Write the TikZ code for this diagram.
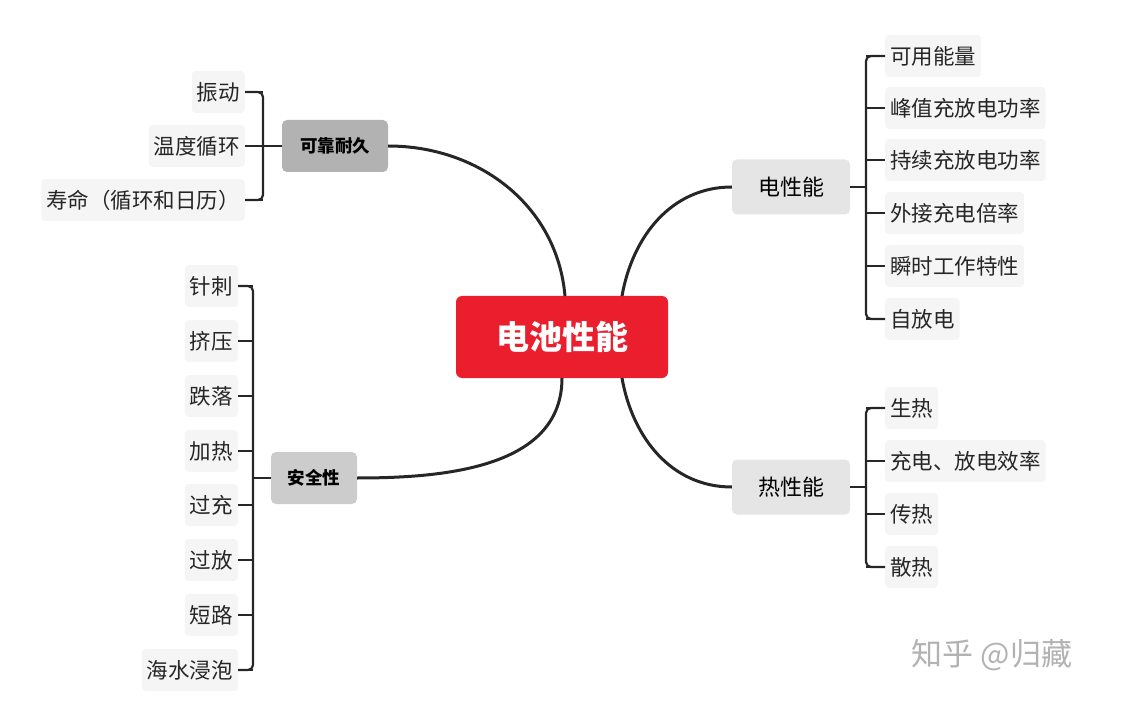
\documentclass[tikz,border=0pt]{standalone}
\usepackage{fontspec}
\setmainfont{Noto Sans CJK SC}
\begin{document}
\begin{tikzpicture}[x=1pt,y=-1pt,
 leaf/.style={fill=black!4,rounded corners=4pt,inner xsep=5pt,minimum height=42pt,font=\fontsize{21.5}{23}\selectfont,text=black!85},
 leafL/.style={leaf,anchor=east},
 leafR/.style={leaf,anchor=west},
 mid/.style={fill=black!10,rounded corners=5pt,minimum width=118pt,minimum height=55pt,font=\fontsize{22}{24}\selectfont},
 sub/.style={fill=black!30,rounded corners=5pt,minimum height=52pt,font=\bfseries\fontsize{17.5}{20}\selectfont},
 conn/.style={line width=3pt,black!85},
 br/.style={line width=2.2pt,black!85,rounded corners=5pt}]
\useasboundingbox (0,0) rectangle (1122,703);
\node[fill={rgb,255:red,234;green,30;blue,44},rounded corners=6pt,minimum width=212pt,minimum height=82pt,text=white,font=\bfseries\fontsize{33}{36}\selectfont] (c) at (562,337) {电池性能};
\node[sub,minimum width=106pt] (rel) at (335,146) {可靠耐久};
\node[sub,minimum width=86pt,fill=black!20] (saf) at (314,478) {安全性};
\node[mid] (ele) at (791,187) {电性能};
\node[mid] (th) at (791,487) {热性能};
\draw[conn] (622,296) to[out=80,in=180] (ele.west);
\draw[conn] (622,378) to[out=-80,in=180] (th.west);
\draw[conn] (565,296) to[out=95,in=0] (rel.east);
\draw[conn] (562,378) to[out=-90,in=0] (saf.east);
\foreach \t/\y [count=\i] in {可用能量/56,峰值充放电功率/108,持续充放电功率/160,外接充电倍率/213,瞬时工作特性/266,自放电/319}{
 \node[leafR] (e\i) at (885,\y) {\t};
 \draw[br] (866,\y) -- (e\i.west);}
\draw[br] (e1.west) -- (866,56) -- (866,319) -- (e6.west);
\draw[br] (ele.east) -- (866,187);
\foreach \t/\y [count=\i] in {生热/408,充电、放电效率/461,传热/514,散热/567}{
 \node[leafR] (t\i) at (885,\y) {\t};
 \draw[br] (866,\y) -- (t\i.west);}
\draw[br] (t1.west) -- (866,408) -- (866,567) -- (t4.west);
\draw[br] (th.east) -- (866,487);
\foreach \t/\y [count=\i] in {振动/92,温度循环/146,寿命（循环和日历）/200}{
 \node[leafL] (r\i) at (245,\y) {\t};
 \draw[br] (r\i.east) -- (263,\y);}
\draw[br] (r1.east) -- (263,92) -- (263,200) -- (r3.east);
\draw[br] (rel.west) -- (263,146);
\foreach \t/\y [count=\i] in {针刺/286,挤压/341,跌落/396,加热/451,过充/505,过放/560,短路/615,海水浸泡/670}{
 \node[leafL] (s\i) at (238,\y) {\t};
 \draw[br] (s\i.east) -- (253,\y);}
\draw[br] (s1.east) -- (253,286) -- (253,670) -- (s8.east);
\draw[br] (saf.west) -- (253,478);
\node[text=black!30,font=\fontsize{31}{33}\selectfont] (wm) at (992,655) {知乎 @归藏};
\end{tikzpicture}
\end{document}
